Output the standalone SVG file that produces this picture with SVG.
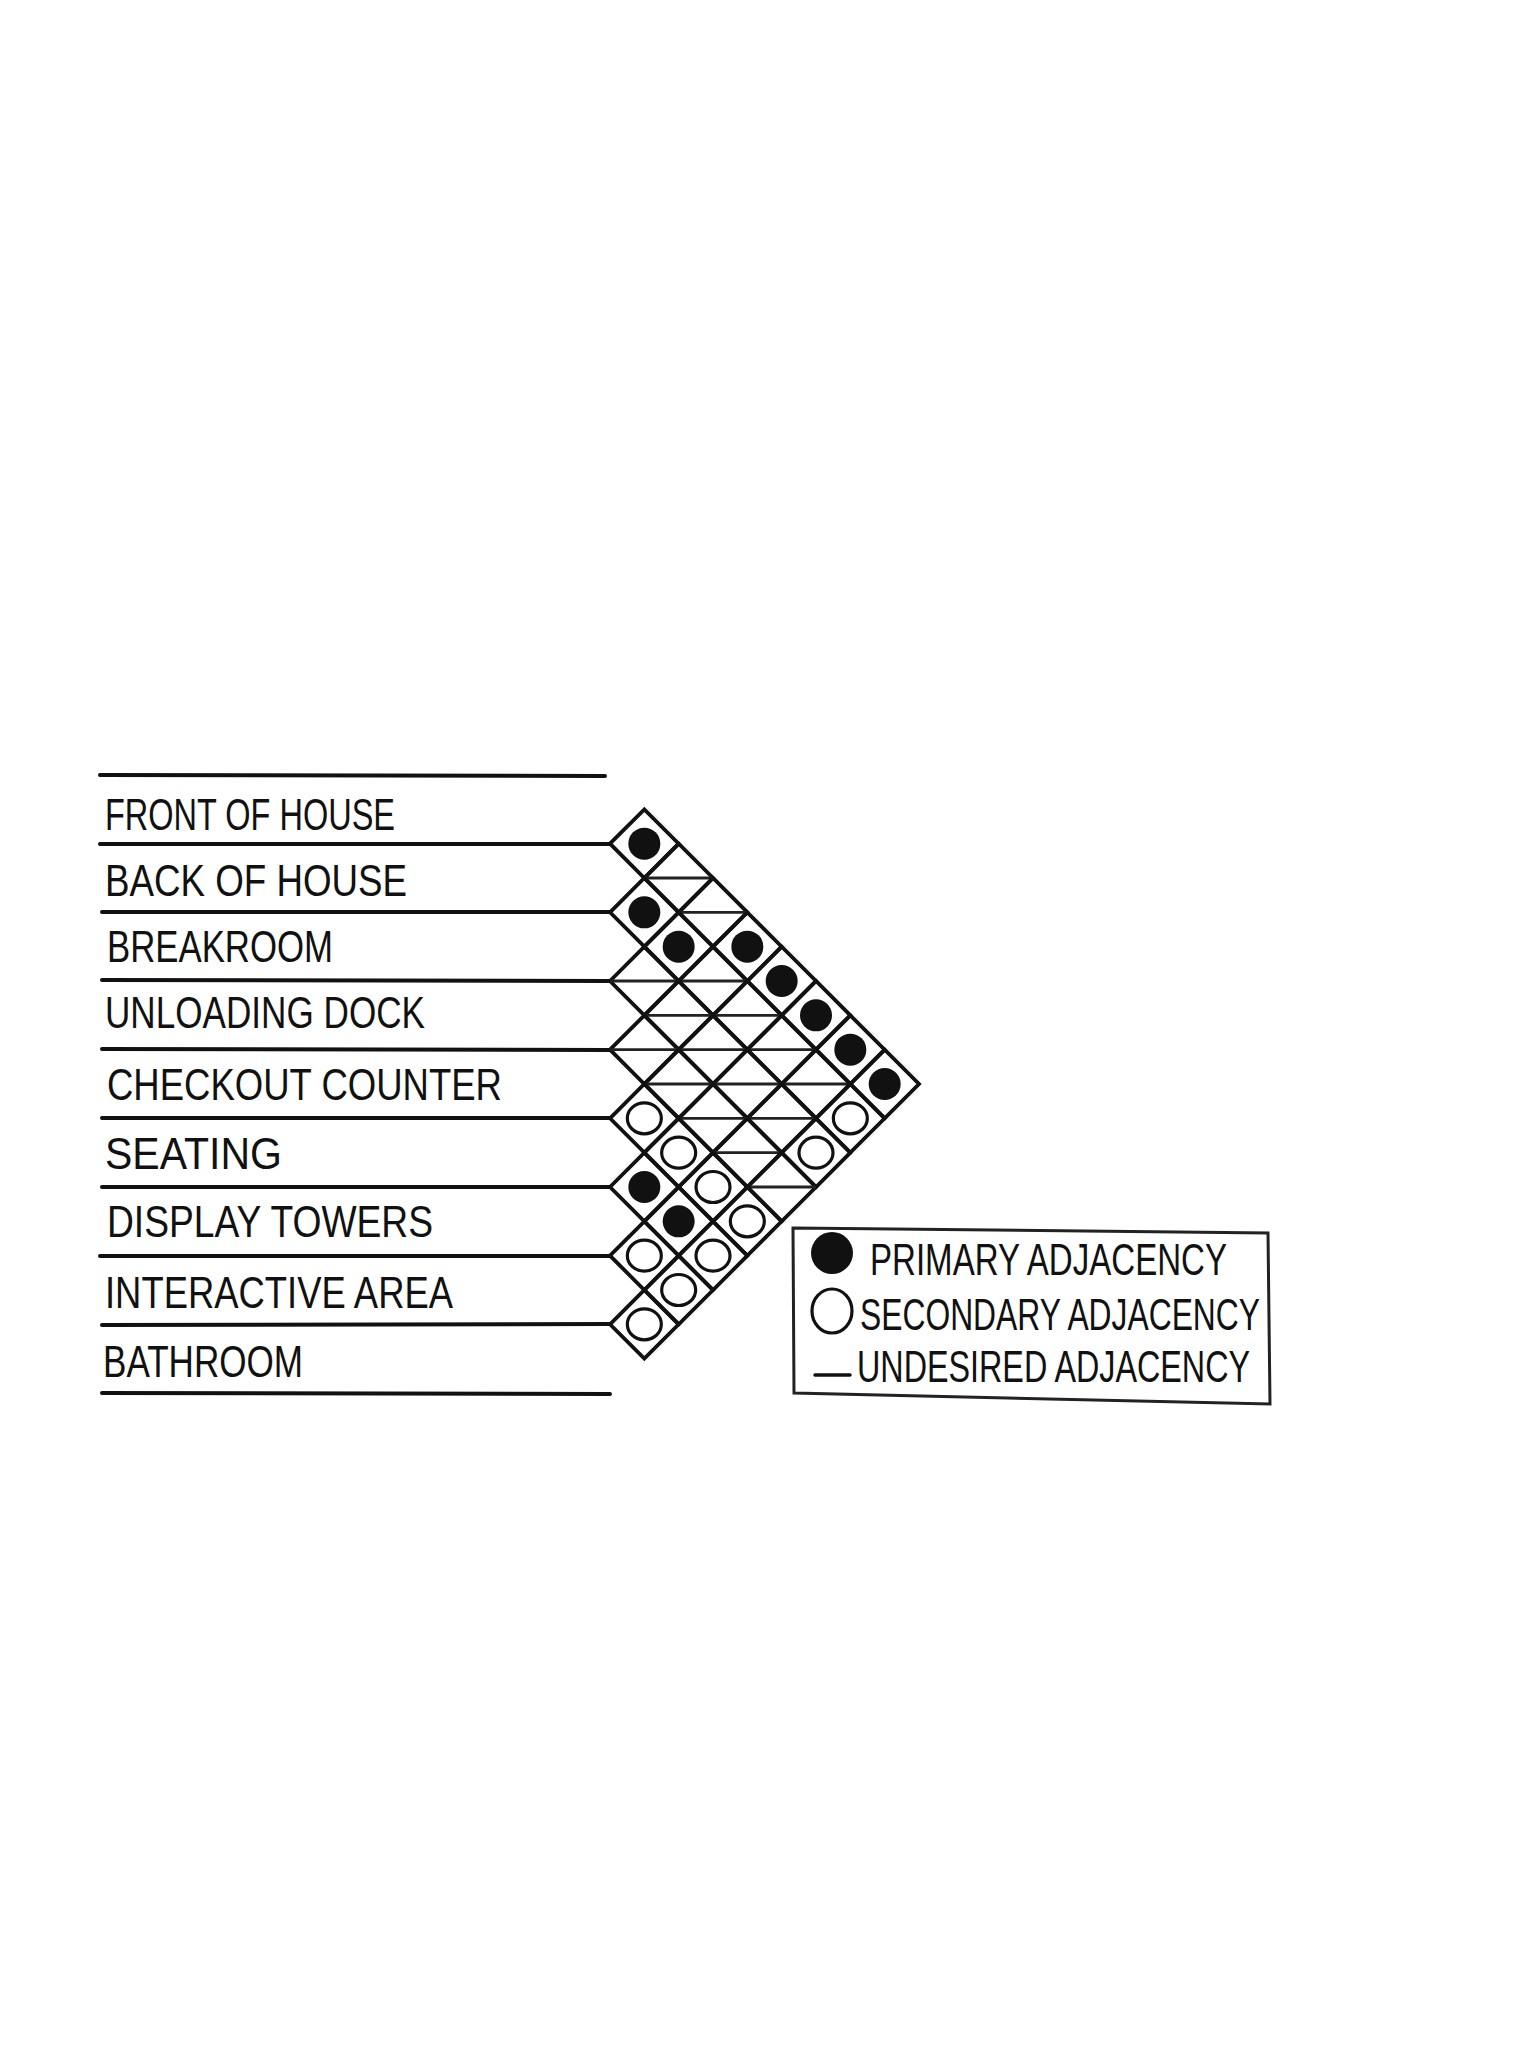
<svg xmlns="http://www.w3.org/2000/svg" width="1536" height="2048" viewBox="0 0 1536 2048">
<style>
.bg{fill:#fff}
.lbl{font-family:"Liberation Sans",Arial,sans-serif;font-size:44px;fill:#111}
.rule{stroke:#111;stroke-width:4;stroke-linecap:round;fill:none}
.grid{stroke:#111;stroke-width:3.8;fill:none;stroke-linejoin:miter}
.pri{fill:#111}
.sec{fill:none;stroke:#111;stroke-width:3.2}
.und{stroke:#222;stroke-width:2.8}
.box{fill:none;stroke:#222;stroke-width:3}
</style>
<defs>
<path id="cell" class="grid" d="M-34.33 0 L0 -34.33 L34.33 0 L0 34.33 Z"/>
<circle id="p" class="pri" r="16"/>
<ellipse id="o" class="sec" rx="17" ry="15.5"/>
<line id="u" class="und" x1="-34.33" y1="0" x2="34.33" y2="0"/>
</defs>
<rect class="bg" x="0" y="0" width="1536" height="2048"/>

<g id="connectors">
<line class="rule" x1="100" y1="775" x2="605" y2="776"/>
<line class="rule" x1="100" y1="844" x2="610" y2="844"/>
<line class="rule" x1="102" y1="912" x2="610" y2="912"/>
<line class="rule" x1="102" y1="980" x2="610" y2="981"/>
<line class="rule" x1="102" y1="1049" x2="610" y2="1050"/>
<line class="rule" x1="102" y1="1118" x2="610" y2="1118"/>
<line class="rule" x1="102" y1="1187" x2="610" y2="1187"/>
<line class="rule" x1="100" y1="1256" x2="610" y2="1256"/>
<line class="rule" x1="102" y1="1325" x2="610" y2="1324"/>
<line class="rule" x1="102" y1="1393" x2="610" y2="1394"/>
</g>

<g id="labels">
<g id="n1"><text class="lbl" x="105" y="830" textLength="290" lengthAdjust="spacingAndGlyphs">FRONT OF HOUSE</text></g>
<g id="n2"><text class="lbl" x="105" y="896" textLength="302" lengthAdjust="spacingAndGlyphs">BACK OF HOUSE</text></g>
<g id="n3"><text class="lbl" x="107" y="962" textLength="226" lengthAdjust="spacingAndGlyphs">BREAKROOM</text></g>
<g id="n4"><text class="lbl" x="105" y="1028" textLength="320" lengthAdjust="spacingAndGlyphs">UNLOADING DOCK</text></g>
<g id="n5"><text class="lbl" x="107" y="1100" textLength="395" lengthAdjust="spacingAndGlyphs">CHECKOUT  COUNTER</text></g>
<g id="n6"><text class="lbl" x="105" y="1169" textLength="177" lengthAdjust="spacingAndGlyphs">SEATING</text></g>
<g id="n7"><text class="lbl" x="107" y="1237" textLength="326" lengthAdjust="spacingAndGlyphs">DISPLAY  TOWERS</text></g>
<g id="n8"><text class="lbl" x="105" y="1308" textLength="348" lengthAdjust="spacingAndGlyphs">INTERACTIVE AREA</text></g>
<g id="n9"><text class="lbl" x="103" y="1377" textLength="200" lengthAdjust="spacingAndGlyphs">BATHROOM</text></g>
</g>

<g id="matrix">
<g id="c1-2" transform="translate(644.33 843.67)"><use href="#cell"/><use href="#p"/></g>
<g id="c1-3" transform="translate(678.67 878)"><use href="#cell"/><use href="#u"/></g>
<g id="c1-4" transform="translate(713 912.33)"><use href="#cell"/><use href="#u"/></g>
<g id="c1-5" transform="translate(747.33 946.67)"><use href="#cell"/><use href="#p"/></g>
<g id="c1-6" transform="translate(781.67 981)"><use href="#cell"/><use href="#p"/></g>
<g id="c1-7" transform="translate(816 1015.33)"><use href="#cell"/><use href="#p"/></g>
<g id="c1-8" transform="translate(850.33 1049.67)"><use href="#cell"/><use href="#p"/></g>
<g id="c1-9" transform="translate(884.67 1084)"><use href="#cell"/><use href="#p"/></g>
<g id="c2-3" transform="translate(644.33 912.33)"><use href="#cell"/><use href="#p"/></g>
<g id="c2-4" transform="translate(678.67 946.67)"><use href="#cell"/><use href="#p"/></g>
<g id="c2-5" transform="translate(713 981)"><use href="#cell"/><use href="#u"/></g>
<g id="c2-6" transform="translate(747.33 1015.33)"><use href="#cell"/><use href="#u"/></g>
<g id="c2-7" transform="translate(781.67 1049.67)"><use href="#cell"/><use href="#u"/></g>
<g id="c2-8" transform="translate(816 1084)"><use href="#cell"/><use href="#u"/></g>
<g id="c2-9" transform="translate(850.33 1118.33)"><use href="#cell"/><use href="#o"/></g>
<g id="c3-4" transform="translate(644.33 981)"><use href="#cell"/><use href="#u"/></g>
<g id="c3-5" transform="translate(678.67 1015.33)"><use href="#cell"/><use href="#u"/></g>
<g id="c3-6" transform="translate(713 1049.67)"><use href="#cell"/><use href="#u"/></g>
<g id="c3-7" transform="translate(747.33 1084)"><use href="#cell"/><use href="#u"/></g>
<g id="c3-8" transform="translate(781.67 1118.33)"><use href="#cell"/><use href="#u"/></g>
<g id="c3-9" transform="translate(816 1152.67)"><use href="#cell"/><use href="#o"/></g>
<g id="c4-5" transform="translate(644.33 1049.67)"><use href="#cell"/><use href="#u"/></g>
<g id="c4-6" transform="translate(678.67 1084)"><use href="#cell"/><use href="#u"/></g>
<g id="c4-7" transform="translate(713 1118.33)"><use href="#cell"/><use href="#u"/></g>
<g id="c4-8" transform="translate(747.33 1152.67)"><use href="#cell"/><use href="#u"/></g>
<g id="c4-9" transform="translate(781.67 1187)"><use href="#cell"/><use href="#u"/></g>
<g id="c5-6" transform="translate(644.33 1118.33)"><use href="#cell"/><use href="#o"/></g>
<g id="c5-7" transform="translate(678.67 1152.67)"><use href="#cell"/><use href="#o"/></g>
<g id="c5-8" transform="translate(713 1187)"><use href="#cell"/><use href="#o"/></g>
<g id="c5-9" transform="translate(747.33 1221.33)"><use href="#cell"/><use href="#o"/></g>
<g id="c6-7" transform="translate(644.33 1187)"><use href="#cell"/><use href="#p"/></g>
<g id="c6-8" transform="translate(678.67 1221.33)"><use href="#cell"/><use href="#p"/></g>
<g id="c6-9" transform="translate(713 1255.67)"><use href="#cell"/><use href="#o"/></g>
<g id="c7-8" transform="translate(644.33 1255.67)"><use href="#cell"/><use href="#o"/></g>
<g id="c7-9" transform="translate(678.67 1290)"><use href="#cell"/><use href="#o"/></g>
<g id="c8-9" transform="translate(644.33 1324.33)"><use href="#cell"/><use href="#o"/></g>
</g>

<g id="legend">
<polygon class="box" points="793,1228 1268,1233 1270,1404 794,1393"/>
<circle class="pri" cx="832" cy="1253" r="21"/>
<text class="lbl" x="870" y="1275" textLength="357" lengthAdjust="spacingAndGlyphs">PRIMARY  ADJACENCY</text>
<ellipse class="sec" cx="832" cy="1311" rx="20" ry="22"/>
<text class="lbl" x="860" y="1330" textLength="400" lengthAdjust="spacingAndGlyphs">SECONDARY ADJACENCY</text>
<line class="rule" x1="815" y1="1375" x2="850" y2="1375" style="stroke-width:3.5"/>
<text class="lbl" x="857" y="1382" textLength="393" lengthAdjust="spacingAndGlyphs">UNDESIRED ADJACENCY</text>
</g>
</svg>
